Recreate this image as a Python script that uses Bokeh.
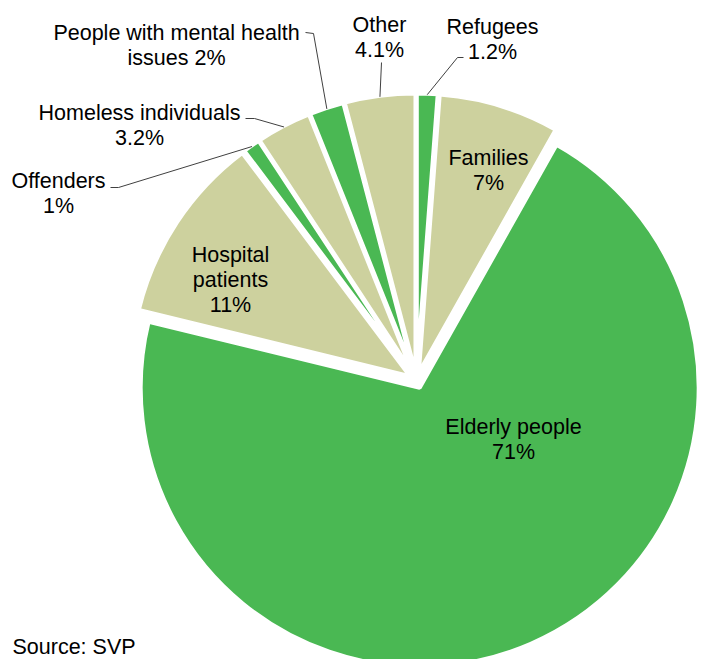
import numpy as np
from bokeh.plotting import figure
from bokeh.models import Range1d
from bokeh.embed import file_html
from bokeh.resources import INLINE
from bokeh.core.properties import value

# ---------------- data (clockwise from 12 o'clock) ----------------
categories = ["Refugees", "Families", "Elderly people", "Hospital patients",
              "Offenders", "Homeless individuals",
              "People with mental health issues", "Other"]
shares = [1.2, 7, 71, 11, 1, 3.2, 2, 4.1]
label_lines = [["Refugees"], ["Families"], ["Elderly people"], ["Hospital", "patients"],
               ["Offenders"], ["Homeless individuals"],
               ["People with mental health", "issues"], ["Other"]]
source_note = "Source: SVP"

GREEN = "#4AB853"
BEIGE = "#CDD19E"
slice_colors = [GREEN, BEIGE, GREEN, BEIGE, GREEN, BEIGE, GREEN, BEIGE]

# ---------------- layout ----------------
W, H = 703, 659
CX, CY = 416, 380          # pie centre (screen px)
R = 279                    # radius
EXPLODE = 8                # slice explosion
FONT = value("Liberation Sans")
FS = "21.5px"
LINE_H = 25

# label anchor (centre x, first line centre y) in screen px
label_pos = {
    "Refugees": (492, 26),
    "Families": (488, 157),
    "Elderly people": (513, 426),
    "Hospital patients": (230, 254),
    "Offenders": (58, 180),
    "Homeless individuals": (139, 112),
    "People with mental health issues": (176, 32),
    "Other": (379, 24),
}
# leader line start points (screen px); last point computed on slice edge
leader_start = {
    "Refugees": [(463, 57), (457, 57)],
    "Offenders": [(110, 187), (118, 187)],
    "Homeless individuals": [(245, 118), (254, 118)],
    "People with mental health issues": [(305, 32), (313, 33)],
    "Other": [(381, 62)],
}

def sy(y):
    return H - y

p = figure(width=W, height=H, output_backend="svg", toolbar_location=None,
           x_range=Range1d(0, W), y_range=Range1d(0, H), min_border=0)
p.axis.visible = False
p.grid.visible = False
p.outline_line_color = None
p.background_fill_color = "white"
p.border_fill_color = "white"

total = float(sum(shares))
cum = np.concatenate([[0.0], np.cumsum(shares)])
th0 = cum[:-1] / total * 360.0
th1 = cum[1:] / total * 360.0
mid = (th0 + th1) / 2.0
mrad = np.radians(mid)

wx = CX + EXPLODE * np.sin(mrad)
wy = sy(CY) + EXPLODE * np.cos(mrad)

p.wedge(x=wx, y=wy, radius=R,
        start_angle=np.radians(90 - th0), end_angle=np.radians(90 - th1),
        direction="clock", fill_color=slice_colors,
        line_color="white", line_width=4)

# leader lines
for i, cat in enumerate(categories):
    if cat in leader_start:
        pts = list(leader_start[cat])
        ex = CX + (R + EXPLODE - 1) * np.sin(mrad[i])
        ey = CY - (R + EXPLODE - 1) * np.cos(mrad[i])
        pts.append((ex, ey))
        p.line([q[0] for q in pts], [sy(q[1]) for q in pts],
               line_color="#404040", line_width=1)

# labels
tx, ty, tt = [], [], []
for i, cat in enumerate(categories):
    lines = list(label_lines[i])
    pct = f"{shares[i]:g}%"
    if cat == "People with mental health issues":
        lines[-1] = lines[-1] + " " + pct
    else:
        lines.append(pct)
    x0, y0 = label_pos[cat]
    for k, ln in enumerate(lines):
        tx.append(x0)
        ty.append(sy(y0 + k * LINE_H))
        tt.append(ln)

p.text(x=tx, y=ty, text=tt, text_align="center", text_baseline="middle",
       text_font=FONT, text_font_size=FS, text_color="#000000")

p.text(x=[12], y=[sy(634)], text=[source_note], text_align="left",
       text_baseline="top", text_font=FONT, text_font_size=FS,
       text_color="#000000")

open("out.html", "w").write(file_html(p, INLINE))
